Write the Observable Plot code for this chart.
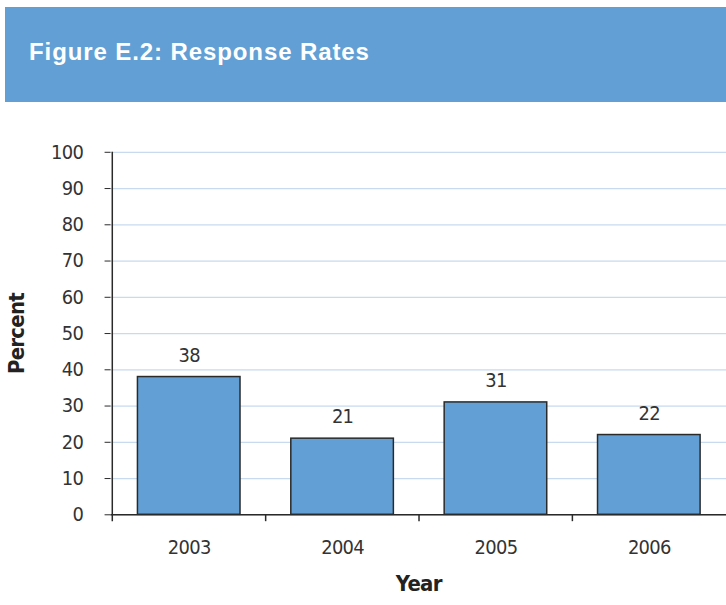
<!DOCTYPE html>
<html>
<head>
<meta charset="utf-8">
<script src="https://cdn.jsdelivr.net/npm/d3@7"></script>
<script src="https://cdn.jsdelivr.net/npm/@observablehq/plot@0.6"></script>
<style>
  html, body { margin: 0; padding: 0; background: #fff; overflow: hidden; width: 726px; height: 605px; }
  .banner {
    margin: 7px 0 0 5px;
    height: 95px;
    background: #619fd4;
    color: #fff;
    font-family: "Liberation Sans", Arial, sans-serif;
    font-weight: bold;
    font-size: 24px;
    letter-spacing: 0.9px;
    box-sizing: border-box;
    padding: 33px 0 0 24px;
    line-height: 24px;
  }
  #chart svg { display: block; }
  #chart svg text { letter-spacing: -0.7px; }
</style>
</head>
<body>
<div class="banner">Figure E.2: Response Rates</div>
<div id="chart"></div>
<script>
// Survey response rates by year
const years = ["2003", "2004", "2005", "2006"];
const rates = [38, 21, 31, 22];
const yTicks = [0, 10, 20, 30, 40, 50, 60, 70, 80, 90, 100];

const data = years.map((year, i) => ({year, rate: rates[i]}));

const width = 729;
const marginLeft = 111;
const marginRight = 0;
const halfBand = (width - marginLeft - marginRight) / years.length / 2;
const font = "'DejaVu Sans Condensed', 'Liberation Sans Narrow', sans-serif";

const chart = Plot.plot({
  width,
  height: 503,
  marginTop: 50,
  marginBottom: 89,
  marginLeft,
  marginRight,
  style: {fontFamily: font, fontSize: "20px", color: "#333", background: "transparent"},
  x: {domain: years, paddingInner: 0.333, paddingOuter: 0.1667, align: 0.5},
  y: {domain: [0, 100]},
  marks: [
    Plot.gridY(yTicks, {stroke: "#c8daee", strokeOpacity: 1, strokeWidth: 1.2}),
    Plot.barY(data, {x: "year", y: "rate", fill: "#619fd4", stroke: "#2a2a2a", strokeWidth: 1.5}),
    Plot.ruleY([0], {stroke: "#2a2a2a", strokeWidth: 1.5}),
    // y axis line, continued below the baseline as the first category divider
    Plot.ruleX([years[0]], {x: d => d, y1: -1.9, y2: 100, dx: -halfBand, stroke: "#2a2a2a", strokeWidth: 1.5}),
    // dividers between the year categories
    Plot.ruleX(years.slice(1), {x: d => d, y1: 0, y2: -1.9, dx: -halfBand, stroke: "#2a2a2a", strokeWidth: 1.5}),
    Plot.axisY(yTicks, {tickSize: 6, tickPadding: 22, stroke: "#2a2a2a", fill: "#333", fontSize: 20, label: null}),
    Plot.axisX({tickSize: 0, tickPadding: 25, fill: "#333", fontSize: 20, label: null}),
    Plot.text(data, {x: "year", y: "rate", text: d => String(d.rate), dy: -22, fill: "#333", fontSize: 20}),
    Plot.text(["Year"], {frameAnchor: "bottom", dy: 77, fontWeight: "bold", fontSize: 22, fill: "#222"}),
    Plot.text(["Percent"], {frameAnchor: "left", textAnchor: "middle", dx: -94, rotate: -90, fontWeight: "bold", fontSize: 22, fill: "#222"})
  ]
});

document.getElementById("chart").appendChild(chart);
</script>
</body>
</html>
